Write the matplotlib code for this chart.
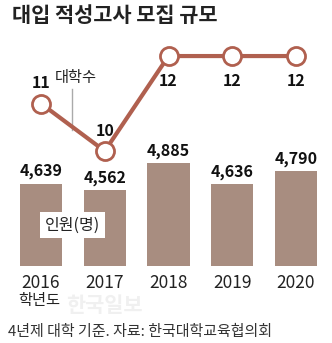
import matplotlib.pyplot as plt

plt.rcParams['font.family'] = ['Noto Sans CJK KR', 'DejaVu Sans']

years = ["2016", "2017", "2018", "2019", "2020"]
applicants = [4639, 4562, 4885, 4636, 4790]
colleges = [11, 10, 12, 12, 12]

BAR_COLOR = "#a88d80"
LINE_COLOR = "#b0604f"

fig = plt.figure(figsize=(3.32, 3.43), dpi=100)
W, H = 332, 343

# axes: x centres 41..296 px, bottom at y=266 px from top
left = (41 - 63.75 / 2) / W
width = 5 * 63.75 / W
bottom = 1 - 266 / H
ax = fig.add_axes([left, bottom, width, 266 / H])
ax.set_xlim(-0.5, 4.5)
ax.set_ylim(3650, 3650 + 266 * 12)
ax.axis("off")

x = list(range(len(years)))
ax.bar(x, applicants, width=0.66, color=BAR_COLOR, zorder=1)
for xi, v in zip(x, applicants):
    ax.annotate(f"{v:,}", (xi, v), xytext=(0, 3), textcoords="offset points",
                ha="center", va="bottom", fontsize=11.5, fontweight="bold",
                color="#111111")
    ax.annotate(years[xi], (xi, 3650), xytext=(0, -6), textcoords="offset points",
                ha="center", va="top", fontsize=12.5, color="#222222")

ax.text(0.5, 3650 + 41 * 12, "인원(명)", ha="center", va="center", fontsize=11.5,
        color="#222222", zorder=3,
        bbox=dict(boxstyle="square,pad=0.3", fc="white", ec="none"))

ax2 = fig.add_axes([left, bottom, width, 266 / H])
ax2.set_xlim(-0.5, 4.5)
ax2.set_ylim(7.58, 7.58 + 266 / 47.5)
ax2.axis("off")
ax2.plot(x, colleges, color=LINE_COLOR, lw=3, marker="o", markersize=13,
         markerfacecolor="white", markeredgecolor=LINE_COLOR,
         markeredgewidth=2, zorder=3)
for xi, v in zip(x, colleges):
    if xi < 2:
        ax2.annotate(str(v), (xi, v), xytext=(0, 9), textcoords="offset points",
                     ha="center", va="bottom", fontsize=11.5, fontweight="bold",
                     color="#111111")
    else:
        ax2.annotate(str(v), (xi, v), xytext=(0, -12), textcoords="offset points",
                     ha="center", va="top", fontsize=11.5, fontweight="bold",
                     color="#111111")

# label for line with leader
ax2.plot([0.485, 0.485], [10.45, 11.3], color="#aaaaaa", lw=1, zorder=2)
ax2.text(0.55, 11.55, "대학수", ha="center", va="center", fontsize=11,
         color="#222222")

fig.text(12 / W, 1 - 15 / H, "대입 적성고사 모집 규모", ha="left", va="center",
         fontsize=15, fontweight="bold", color="#222222")
fig.text(18 / W, 1 - 300 / H, "학년도", ha="left", va="center", fontsize=11,
         color="#222222")
fig.text(66 / W, 1 - 306 / H, "한국일보", ha="left", va="center", fontsize=15,
         fontweight="bold", color="#f0f0f0", zorder=0)
fig.text(8 / W, 1 - 332 / H, "4년제 대학 기준. 자료: 한국대학교육협의회",
         ha="left", va="center", fontsize=10.8, color="#333333")

fig.savefig("out.png", dpi=100)
